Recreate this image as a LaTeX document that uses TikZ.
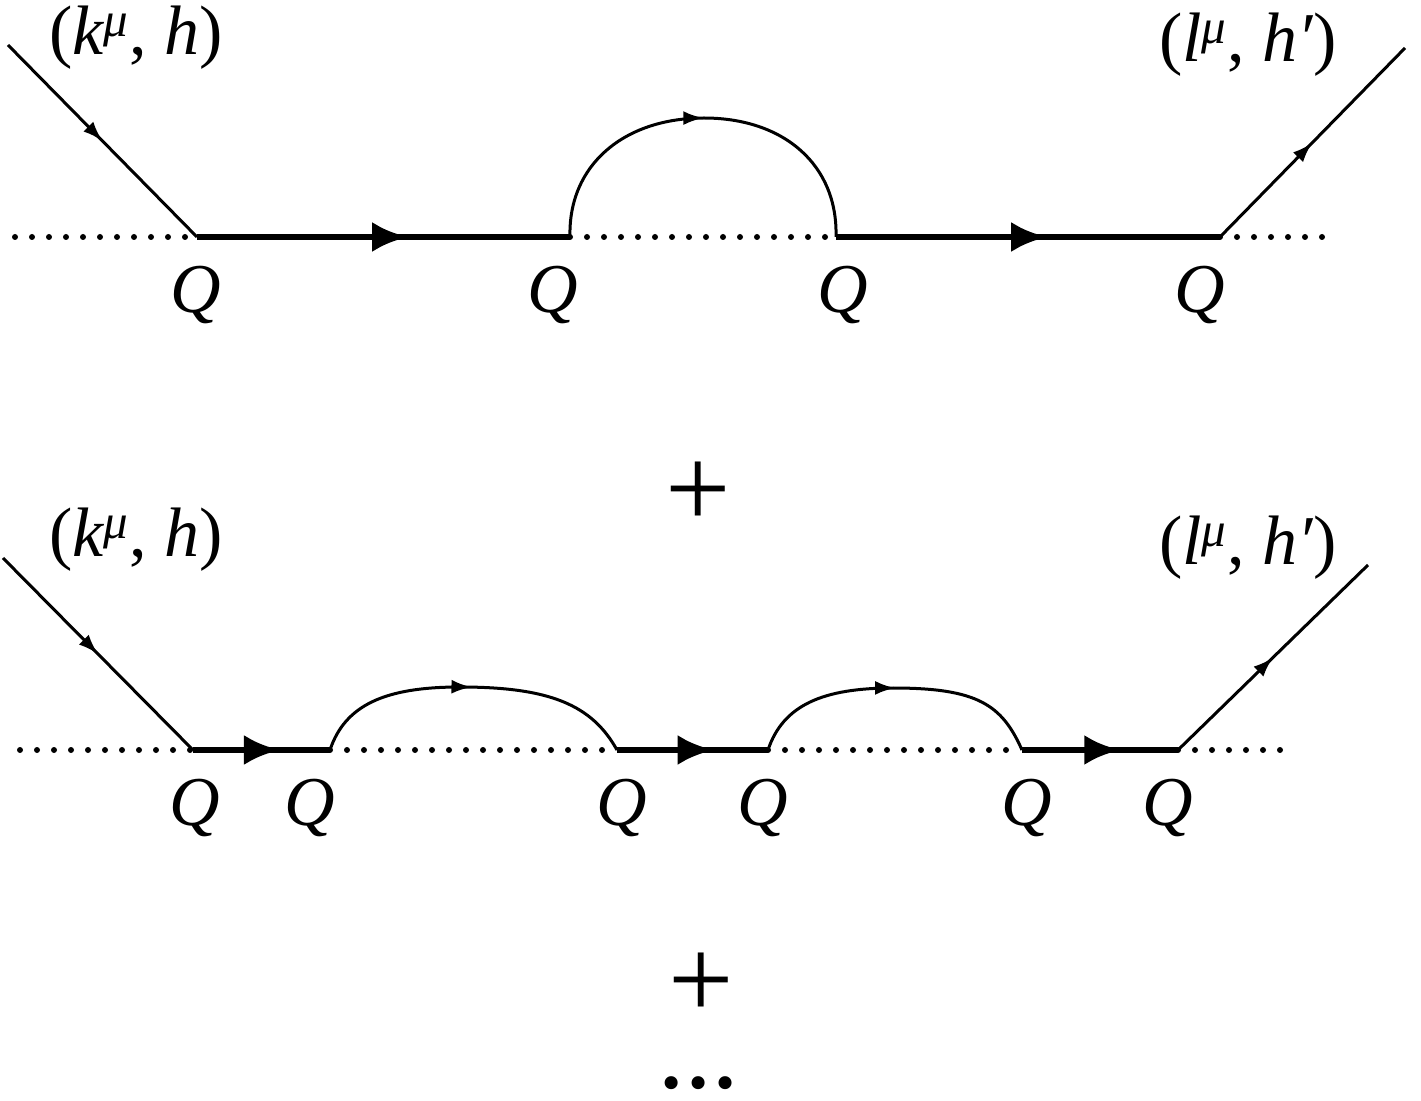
\documentclass[tikz,border=0pt]{standalone}
\usepackage{fontspec}
\setmainfont{Liberation Serif}
\usepackage{tikz}
\usetikzlibrary{arrows.meta,calc,decorations.markings}
\newcommand{\ket}[3]{\textup{(}#1\textsuperscript{μ}\textup{,} #2#3\textup{)}}
\tikzset{x=0.5pt,y=0.5pt,
 fermion/.style={line width=1.5pt,postaction={decorate},decoration={markings,
   mark=at position #1 with {\arrow{Latex[length=10pt,width=7pt]}}}},
 fermion/.default=0.5,
 heavy/.style={line width=3.4pt,postaction={decorate},decoration={markings,
   mark=at position #1 with {\arrow{Latex[length=18pt,width=15pt]}}}},
 eikonal/.style={line width=3pt,line cap=round,dash pattern=on 0pt off 8.5pt},
 lab/.style={font=\fontsize{35}{40}\selectfont\itshape,inner sep=0pt},
 plus/.style={font=\fontsize{58}{60}\selectfont,inner sep=0pt}}
\begin{document}
\begin{tikzpicture}
\useasboundingbox (0,0) rectangle (1421,1100);
% one exchange
\coordinate (a0) at (15,863);   \coordinate (a5) at (1335,863);
\coordinate (a1) at (197,863);  \coordinate (a2) at (570,863);
\coordinate (a3) at (836,863);  \coordinate (a4) at (1220,863);
\coordinate (ain) at (8,1055);  \coordinate (aout) at (1405,1052);
\coordinate (atop) at (704,982);
\draw[eikonal] (a0)--(a1) (a2)--(a3) (a4)--(a5);
\draw[fermion] (ain)--(a1);
\draw[fermion] (a4)--(aout);
\draw[heavy=0.566] (a1)--(a2);
\draw[heavy=0.55] (a3)--(a4);
\draw[fermion] (a2) .. controls +(-2,72) and +(-80,0) .. (atop)
  .. controls +(80,0) and +(2,72) .. (a3);
\node[lab] (ka) at (136,1062) {\ket{k}{h}{}};
\node[lab] (la) at (1248,1055) {\ket{l}{h}{′}};
\foreach \n/\x in {1/196,2/553,3/843,4/1200}
  \node[lab] (qa\n) at (\x,805) {Q};
\node[plus] (p1) at (698,605) {+};
% two exchanges
\coordinate (b0) at (20,350);   \coordinate (b7) at (1290,350);
\coordinate (b1) at (193,350);  \coordinate (b2) at (330,350);
\coordinate (b3) at (617,350);  \coordinate (b4) at (768,350);
\coordinate (b5) at (1022,350); \coordinate (b6) at (1178,350);
\coordinate (bin) at (3,542);   \coordinate (bout) at (1368,535);
\coordinate (btop1) at (460,413); \coordinate (btop2) at (893,412);
\draw[eikonal] (b0)--(b1) (b2)--(b3) (b4)--(b5) (b6)--(b7);
\draw[fermion] (bin)--(b1);
\draw[fermion] (b6)--(bout);
\draw[heavy=0.635] (b1)--(b2);
\draw[heavy=0.64] (b3)--(b4);
\draw[heavy=0.63] (b5)--(b6);
\draw[fermion] (b2) .. controls +(15,45) and +(-75,0) .. (btop1)
  .. controls +(90,0) and +(-25,45) .. (b3);
\draw[fermion] (b4) .. controls +(15,45) and +(-70,0) .. (btop2)
  .. controls +(85,0) and +(-20,45) .. (b5);
\node[lab] (kb) at (136,560) {\ket{k}{h}{}};
\node[lab] (lb) at (1248,552) {\ket{l}{h}{′}};
\foreach \n/\x in {1/195,2/310,3/622,4/763,5/1027,6/1168}
  \node[lab] (qb\n) at (\x,292) {Q};
\node[plus] (p2) at (701,114) {+};
\node[lab,font=\fontsize{40}{44}\selectfont\bfseries,anchor=base] (dd) at (698,12) {\dots};
\end{tikzpicture}
\end{document}
